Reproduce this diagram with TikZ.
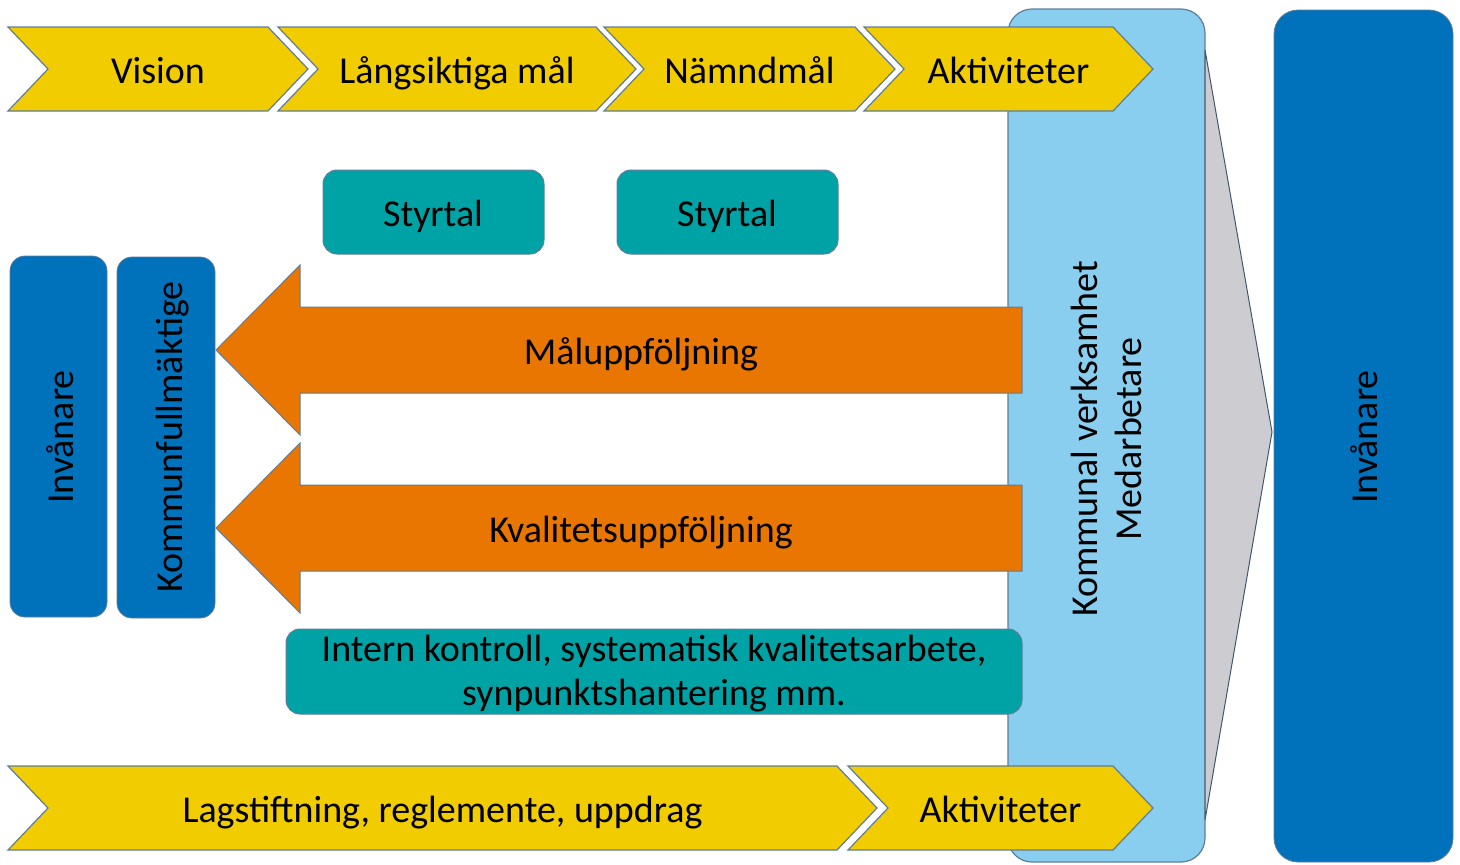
\documentclass[tikz,border=0pt]{standalone}
\usepackage{fontspec}
\setmainfont{Carlito}

\definecolor{stepYellow}{RGB}{240,204,0}
\definecolor{edgeBlue}{RGB}{95,125,155}
\definecolor{keyTeal}{RGB}{0,163,165}
\definecolor{followOrange}{RGB}{232,118,0}
\definecolor{citizenBlue}{RGB}{0,114,187}
\definecolor{staffBlue}{RGB}{137,206,238}
\definecolor{funnelGray}{RGB}{205,205,209}

\def \tipDepth {40}

\tikzset{
   oneLine/.style={text height=14pt, text depth=0pt},
   stepShape/.style={fill=stepYellow, draw=edgeBlue, line width=0.6pt},
   keyBox/.style={fill=keyTeal, draw=edgeBlue, line width=0.5pt, rounded corners=7pt},
   followUp/.style={fill=followOrange, draw=edgeBlue, line width=0.5pt},
   citizenBox/.style={fill=citizenBlue, draw=edgeBlue, line width=0.4pt, rounded corners=#1},
   citizenBox/.default=7.5pt,
   staffBox/.style={fill=staffBlue, draw=edgeBlue, line width=0.6pt, rounded corners=12pt},
   funnel/.style={fill=funnelGray, draw=edgeBlue!70!black, line width=0.5pt}
}

\newcommand{\stepPath}[4]{%
   \filldraw[stepShape] (#1, #3) -- (#2, #3) -- ({#2 + \tipDepth}, {(#3 + #4) / 2}) -- (#2, #4) -- (#1, #4) -- ({#1 + \tipDepth}, {(#3 + #4) / 2}) -- cycle;
}

\begin{document}
\begin{tikzpicture}[x=0.5pt, y=-0.5pt, every node/.style={font=\fontsize{19}{22}\selectfont, text=black, align=center}]
      \useasboundingbox (0, 0) rectangle (1460, 864);
      \filldraw[staffBox] (1008, 9) rectangle (1205, 862);
      \node[rotate=90] (staff) at (1106, 439) {Kommunal verksamhet\\Medarbetare};
      \filldraw[funnel] (1205, 50) -- (1272, 432) -- (1205, 820) -- cycle;
      \filldraw[citizenBox=12pt] (1274, 10) rectangle (1453, 862);
      \node[oneLine, rotate=90] (rightCitizens) at (1363, 437) {Invånare};
      \foreach \leftX/\rightX/\stepName/\stepText in {8/268/vision/Vision, 278/596/longTerm/Långsiktiga mål, 604/855/boardGoal/Nämndmål, 864/1113/topActivity/Aktiviteter} {
         \stepPath{\leftX}{\rightX}{27}{111}
         \node[oneLine] (\stepName) at ({(\leftX + \rightX + \tipDepth) / 2}, 69) {\stepText};
      }
      \foreach \leftX/\rightX/\stepName/\stepText in {8/837/law/{Lagstiftning, reglemente, uppdrag}, 848/1113/bottomActivity/Aktiviteter} {
         \stepPath{\leftX}{\rightX}{766}{850}
         \node[oneLine] (\stepName) at ({(\leftX + \rightX + \tipDepth) / 2}, 808) {\stepText};
      }
      \filldraw[citizenBox] (10, 256) rectangle (107, 617);
      \node[oneLine, rotate=90] (leftCitizens) at (59, 437) {Invånare};
      \filldraw[citizenBox] (117, 257) rectangle (215, 618);
      \node[oneLine, rotate=90] (council) at (168, 437) {Kommunfullmäktige};
      \foreach \arrowY/\arrowName/\arrowText in {350/goalFollowUp/Måluppföljning, 528/qualityFollowUp/Kvalitetsuppföljning} {
         \filldraw[followUp] (1022, \arrowY - 43) -- (300, \arrowY - 43) -- (300, \arrowY - 85) -- (216, \arrowY) -- (300, \arrowY + 85) -- (300, \arrowY + 43) -- (1022, \arrowY + 43) -- cycle;
         \node[oneLine] (\arrowName) at (641, \arrowY) {\arrowText};
      }
      \filldraw[keyBox] (323, 170) rectangle (544, 254);
      \node[oneLine] (firstKey) at (433, 212) {Styrtal};
      \filldraw[keyBox] (617, 170) rectangle (838, 254);
      \node[oneLine] (secondKey) at (727, 212) {Styrtal};
      \filldraw[keyBox] (286, 629) rectangle (1022, 714);
      \node (internControl) at (654, 674) {Intern kontroll, systematisk kvalitetsarbete,\\synpunktshantering mm.};
\end{tikzpicture}
\end{document}
